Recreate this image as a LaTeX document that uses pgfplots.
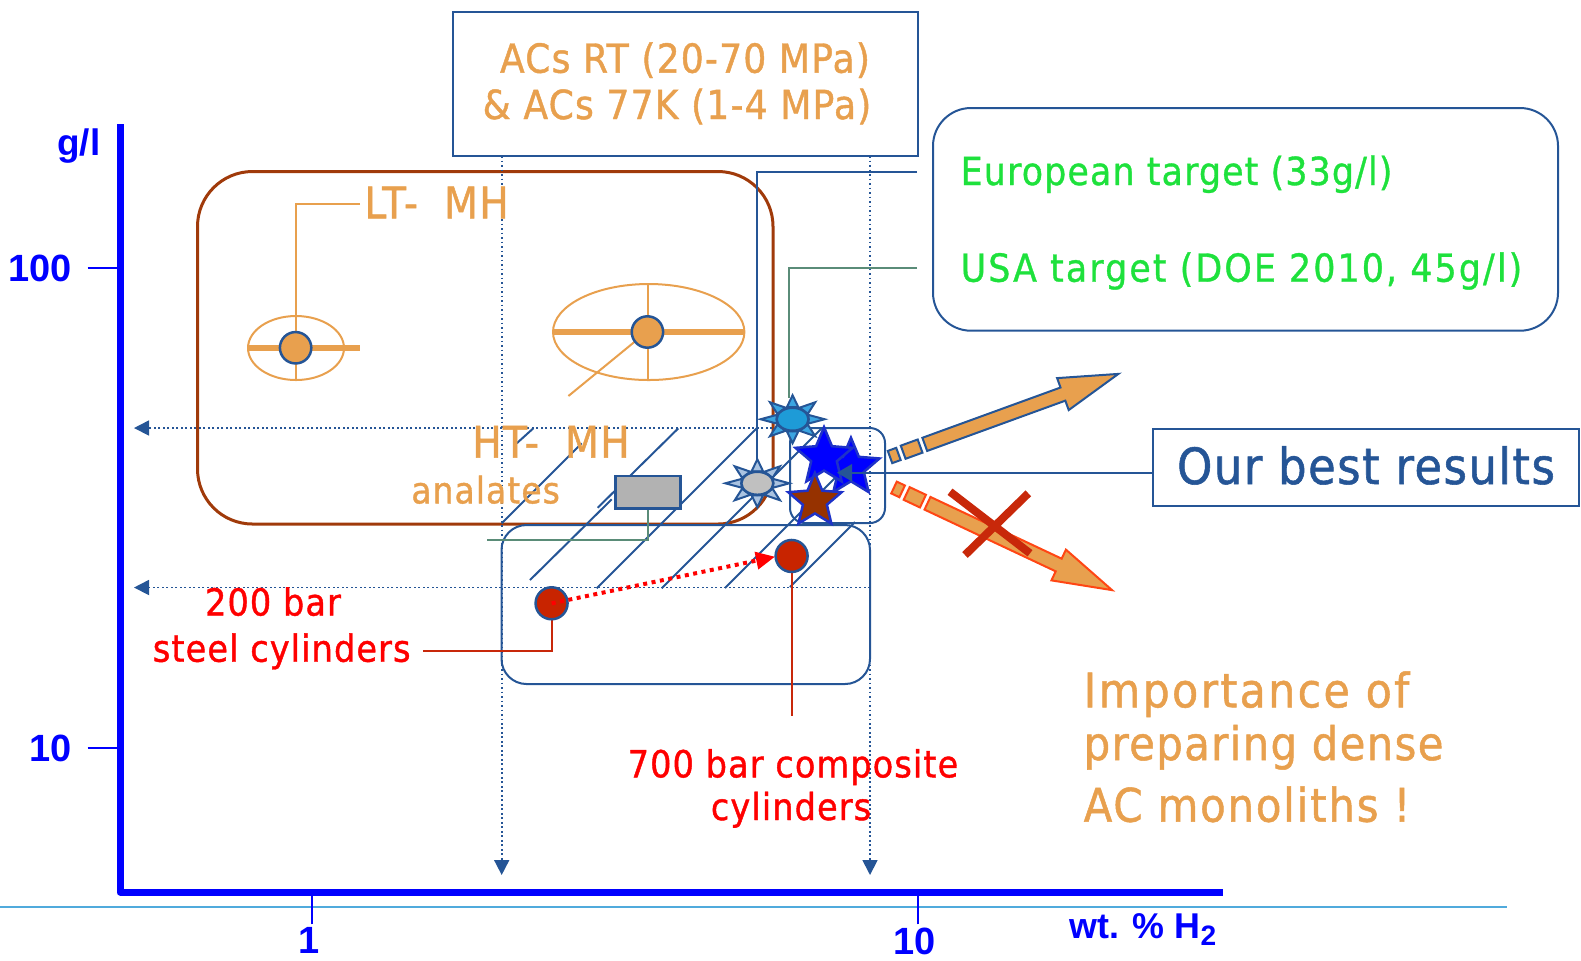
\documentclass[border=0pt]{standalone}
\usepackage{fontspec}
\setmainfont{Liberation Sans}
\newfontfamily\tah[FakeStretch=0.9,LetterSpace=3,FakeBold=1.1]{DejaVu Sans}
\newfontfamily\grnfont[FakeStretch=0.9,LetterSpace=3,FakeBold=0.9]{DejaVu Sans}
\usepackage{pgfplots}
\pgfplotsset{compat=1.18}
\usetikzlibrary{arrows.meta}

\definecolor{dkblue}{RGB}{37,85,150}
\definecolor{orng}{RGB}{232,160,78}
\definecolor{brwn}{RGB}{160,58,10}
\definecolor{grntxt}{RGB}{30,225,60}
\definecolor{redfill}{RGB}{200,36,0}
\definecolor{redline}{RGB}{200,40,10}
\definecolor{gry}{RGB}{90,140,120}
\definecolor{ltblue}{RGB}{80,170,220}
\definecolor{xblue}{RGB}{0,0,255}
\definecolor{sunblue}{RGB}{30,155,215}
\definecolor{rayblue}{RGB}{60,165,225}
\definecolor{raygrey}{RGB}{170,195,225}
\definecolor{ovalgrey}{RGB}{192,192,192}
\definecolor{rectgrey}{RGB}{178,178,178}
\definecolor{arrowred}{RGB}{255,70,20}
\definecolor{xred}{RGB}{200,40,10}
\definecolor{starbrown}{RGB}{150,50,0}
\definecolor{starborder}{RGB}{30,50,200}

% filled five-point star
\pgfdeclareplotmark{fstar}{%
  \pgfpathmoveto{\pgfpointpolar{90}{\pgfplotmarksize}}%
  \pgfpathlineto{\pgfpointpolar{126}{0.45\pgfplotmarksize}}%
  \pgfpathlineto{\pgfpointpolar{162}{\pgfplotmarksize}}%
  \pgfpathlineto{\pgfpointpolar{198}{0.45\pgfplotmarksize}}%
  \pgfpathlineto{\pgfpointpolar{234}{\pgfplotmarksize}}%
  \pgfpathlineto{\pgfpointpolar{270}{0.45\pgfplotmarksize}}%
  \pgfpathlineto{\pgfpointpolar{306}{\pgfplotmarksize}}%
  \pgfpathlineto{\pgfpointpolar{342}{0.45\pgfplotmarksize}}%
  \pgfpathlineto{\pgfpointpolar{18}{\pgfplotmarksize}}%
  \pgfpathlineto{\pgfpointpolar{54}{0.45\pgfplotmarksize}}%
  \pgfpathclose
  \pgfusepathqfillstroke
}
% flat oval body of the target "suns"
\pgfdeclareplotmark{oval}{%
  \pgfpathellipse{\pgfpointorigin}{\pgfqpoint{\pgfplotmarksize}{0pt}}{\pgfqpoint{0pt}{0.72\pgfplotmarksize}}%
  \pgfusepathqfillstroke
}
% eight triangular rays
\pgfdeclareplotmark{sunrays}{%
  \foreach \a in {0,45,...,315}{%
    \pgfmathsetmacro\sTx{2.0*cos(\a)}%
    \pgfmathsetmacro\sTy{1.5*sin(\a)}%
    \pgfmathsetmacro\sAx{1.05*cos(\a-20)}%
    \pgfmathsetmacro\sAy{0.8*sin(\a-20)}%
    \pgfmathsetmacro\sBx{1.05*cos(\a+20)}%
    \pgfmathsetmacro\sBy{0.8*sin(\a+20)}%
    \pgfpathmoveto{\pgfqpoint{\sTx\pgfplotmarksize}{\sTy\pgfplotmarksize}}%
    \pgfpathlineto{\pgfqpoint{\sAx\pgfplotmarksize}{\sAy\pgfplotmarksize}}%
    \pgfpathlineto{\pgfqpoint{\sBx\pgfplotmarksize}{\sBy\pgfplotmarksize}}%
    \pgfpathclose
    \pgfusepathqfillstroke
  }%
}

\begin{document}
\begin{tikzpicture}
% ---------- background annotations (pixel grid, 1 px = 0.1 mm) ----------
\begin{scope}[x=0.1mm,y=-0.1mm]
\draw[ltblue, line width=0.2mm] (0,907) -- (1507,907);

% frames
\draw[brwn, line width=0.3mm, rounded corners=5.5mm] (197.5,171.5) rectangle (773,524);
\draw[dkblue, line width=0.2mm, rounded corners=2.5mm] (501.5,525) rectangle (870,684);
\draw[dkblue, line width=0.2mm, rounded corners=1.5mm] (790,428) rectangle (885,523);

% guide lines
\begin{scope}[dkblue, line width=0.17mm, dash pattern=on 0.17mm off 0.28mm,
              -{Triangle[length=1.5mm,width=1.5mm]}]
\draw (501.7,156) -- (501.7,875);
\draw (870,156) -- (870,875);
\draw (772,428) -- (134,428);
\draw (870,587.5) -- (134,587.5);
\end{scope}

% hatching
\draw[dkblue, line width=0.2mm]
  (516.7,443.3)--(533.3,428.3) (501.7,523.3)--(581.7,443.3)
  (530,580)--(611.7,499.3) (597.7,507.7)--(678.3,428.3)
  (596.7,588.3)--(756.7,428.3) (661.7,588.3)--(821.7,428.3)
  (725,588)--(852,461) (790,587)--(855,522);

\draw[gry, line width=0.2mm] (648,508)--(648,540)--(487,540);
\draw[dkblue, fill=rectgrey, line width=0.25mm] (615.7,476) rectangle (680.7,508.3);

% metal hydride ellipses and leaders
\draw[orng, line width=0.2mm] (296,348) ellipse [x radius=48, y radius=32];
\draw[orng, line width=0.2mm] (360,204)--(295.7,204)--(295.7,380);
\draw[orng, line width=0.2mm] (648.7,332) ellipse [x radius=95.7, y radius=48];
\draw[orng, line width=0.2mm] (647.7,284)--(647.7,380);
\draw[orng, line width=0.2mm] (638,339)--(568.4,396);

% target leaders
\draw[dkblue, line width=0.2mm] (917,171.7)--(757.3,171.7)--(757.3,462);
\draw[gry, line width=0.2mm] (917,267.7)--(789.3,267.7)--(789.3,398);

% cylinder leaders
\draw[redline, line width=0.2mm] (551.7,619)--(551.7,650.7)--(423.3,650.7);
\draw[redline, line width=0.2mm] (791.7,572)--(791.7,716);

% boxes
\draw[dkblue, line width=0.2mm] (453,12) rectangle (918,156);
\draw[dkblue, line width=0.2mm, rounded corners=3.8mm] (933,108) rectangle (1558,330.7);
\draw[dkblue, line width=0.2mm] (1152.5,428.5) rectangle (1579,506);

% orange arrows
\begin{scope}[shift={(890,457)}, rotate=20, fill=orng, draw=dkblue, line width=0.2mm]
\filldraw (0,-6.5) rectangle (9,6.5);
\filldraw (14,-7) rectangle (32,7);
\filldraw (37,-7) -- (184,-7) -- (184,-17) -- (243,0) -- (184,17) -- (184,7) -- (37,7) -- cycle;
\end{scope}
\begin{scope}[shift={(894,487.5)}, rotate=-25.2, fill=orng, draw=arrowred, line width=0.2mm]
\filldraw (0,-6.5) rectangle (9,6.5);
\filldraw (14,-7) rectangle (32,7);
\filldraw (37,-7) -- (182,-7) -- (182,-17) -- (241,0) -- (182,17) -- (182,7) -- (37,7) -- cycle;
\end{scope}
\draw[xred, line width=0.8mm] (950,491.7)--(1030,553.3) (1028.3,493.3)--(965,555);

% texts
\begin{scope}[every node/.style={inner sep=0pt}]
\node[anchor=base, text=orng, font=\tah\fontsize{11.4}{13}\selectfont] at (685,72.7) {ACs RT (20-70 MPa)};
\node[anchor=base, text=orng, font=\tah\fontsize{11.4}{13}\selectfont] at (677,119) {\& ACs 77K (1-4 MPa)};
\node[anchor=base west, text=orng, font=\tah\fontsize{12.4}{14}\selectfont] at (363.7,218.3) {LT-\hspace{0.6em}MH};
\node[anchor=base, text=orng, font=\tah\fontsize{12.4}{14}\selectfont] at (551,457.7) {HT-\hspace{0.6em}MH};
\node[anchor=base, text=orng, font=\tah\fontsize{10.4}{12}\selectfont] at (485.6,503.3) {analates};
\node[anchor=base, text=red, font=\tah\fontsize{10.6}{12}\selectfont] at (273,615.5) {200 bar};
\node[anchor=base, text=red, font=\tah\fontsize{10.6}{12}\selectfont] at (281.7,661.7) {steel cylinders};
\node[anchor=base, text=red, font=\tah\fontsize{10.6}{12}\selectfont] at (793,777.3) {700 bar composite};
\node[anchor=base, text=red, font=\tah\fontsize{10.6}{12}\selectfont] at (791,820) {cylinders};
\node[anchor=base west, text=grntxt, font=\grnfont\fontsize{11}{13}\selectfont] at (960,185) {European target (33g/l)};
\node[anchor=base west, text=grntxt, font=\grnfont\fontsize{11}{13}\selectfont\addfontfeature{LetterSpace=5.5}] at (960,281.7) {USA target (DOE 2010, 45g/l)};
\node[anchor=base, text=dkblue, font=\tah\fontsize{14.2}{17}\selectfont] at (1366,484) {Our best results};
\node[anchor=base west, text=orng, font=\tah\fontsize{13.5}{16}\selectfont\addfontfeature{LetterSpace=5}] at (1083,707.3) {Importance of};
\node[anchor=base west, text=orng, font=\tah\fontsize{13.2}{16}\selectfont] at (1083,760) {preparing dense};
\node[anchor=base west, text=orng, font=\tah\fontsize{13.2}{16}\selectfont\addfontfeature{LetterSpace=4}] at (1083,821.7) {AC monoliths !};
\end{scope}
\end{scope}

% ---------- the log-log chart ----------
\begin{axis}[
  at={(12mm,-89.2mm)}, anchor=south west,
  scale only axis, width=110.3mm, height=76.8mm,
  xmode=log, ymode=log,
  xmin=0.4828, xmax=31.92, ymin=5.012, ymax=199.5,
  clip=false,
  axis x line*=bottom, axis y line*=left,
  axis line style={draw=none},
  xtick={1,10}, ytick={10,100},
  xticklabels={1,10}, yticklabels={10,100},
  xminorticks=false, yminorticks=false,
  tick align=outside, major tick length=3.25mm,
  tick style={draw=xblue, line width=0.2mm},
  ticklabel style={font=\fontsize{10.8}{12}\selectfont\bfseries, text=xblue, inner sep=0pt},
  xticklabel style={yshift=-0.25mm, xshift=-0.3mm},
  yticklabel style={xshift=-1.5mm},
]
% spread of the metal hydrides
\addplot[orng, line width=0.6mm] coordinates {(0.785,68.2) (1.201,68.2)};
\addplot[orng, line width=0.6mm] coordinates {(2.502,73.56) (5.18,73.56)};
% LT-MH and HT-MH
\addplot[only marks, mark=*, mark size=1.57mm, mark options={fill=orng, draw=dkblue, line width=0.25mm}]
  coordinates {(0.941,68.2) (3.583,73.56)};
% 200 bar steel and 700 bar composite cylinders
\addplot[only marks, mark=*, mark size=1.6mm, mark options={fill=redfill, draw=dkblue, line width=0.25mm}]
  coordinates {(2.489,20.02) (6.197,25.12)};
% European target
\addplot[only marks, mark=sunrays, mark size=1.6mm, mark options={fill=raygrey, draw=dkblue, line width=0.2mm}]
  coordinates {(5.44,35.6)};
\addplot[only marks, mark=oval, mark size=1.6mm, mark options={fill=ovalgrey, draw=dkblue, line width=0.25mm}]
  coordinates {(5.44,35.6)};
% USA target
\addplot[only marks, mark=sunrays, mark size=1.6mm, mark options={fill=rayblue, draw=dkblue, line width=0.2mm}]
  coordinates {(6.22,48.4)};
\addplot[only marks, mark=oval, mark size=1.6mm, mark options={fill=sunblue, draw=dkblue, line width=0.25mm}]
  coordinates {(6.22,48.4)};
% our monoliths
\addplot[only marks, mark=fstar, mark size=3.0mm, mark options={fill=xblue, draw=starborder, line width=0.25mm}]
  coordinates {(7.765,38.36) (7.009,40.36)};
\addplot[only marks, mark=fstar, mark size=2.8mm, mark options={fill=starbrown, draw=starborder, line width=0.25mm}]
  coordinates {(6.77,32.72)};
\end{axis}

% ---------- overlays ----------
\begin{scope}[x=0.1mm,y=-0.1mm]
\draw[dkblue, line width=0.2mm, -{Triangle[length=1.5mm,width=1.7mm]}] (1152.5,472.7) -- (837,472.7);
\draw[red, line width=0.4mm, dash pattern=on 0.4mm off 0.45mm, -{Triangle[length=1.9mm,width=1.7mm]}]
  (551.7,603.3) -- (775,556.7);
\draw[xblue, line width=0.7mm, line join=round] (120,124) -- (120,892) -- (1223,892);
\node[anchor=base east, inner sep=0pt, text=xblue, font=\fontsize{10.5}{12}\selectfont\bfseries] at (101,155) {g/l};
\node[anchor=base west, inner sep=0pt, text=xblue, font=\fontsize{10.2}{12}\selectfont\bfseries] at (1069,938) {wt. \% H\textsubscript{\fontsize{8}{9}\selectfont 2}};
\end{scope}

\pgfresetboundingbox
\path (0,0) rectangle (158.1mm,-96mm);
\end{tikzpicture}
\end{document}
